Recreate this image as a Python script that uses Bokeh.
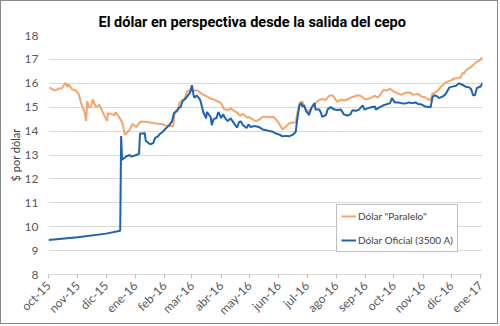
import pandas as pd
from math import pi
from bokeh.plotting import figure
from bokeh.models import FixedTicker, Legend, LegendItem, Range1d, Title
from bokeh.embed import file_html
from bokeh.resources import INLINE

paralelo_dates = [
    "2015-10-02", "2015-10-05", "2015-10-08", "2015-10-12", "2015-10-15", "2015-10-19", "2015-10-21",
    "2015-10-22", "2015-10-26", "2015-10-30", "2015-11-02", "2015-11-05", "2015-11-08", "2015-11-10",
    "2015-11-11", "2015-11-13", "2015-11-15", "2015-11-17", "2015-11-20", "2015-11-24", "2015-11-25",
    "2015-11-29", "2015-12-02", "2015-12-03", "2015-12-06", "2015-12-10", "2015-12-11", "2015-12-15",
    "2015-12-18", "2015-12-21", "2015-12-26", "2015-12-29", "2016-01-02", "2016-01-05", "2016-01-07",
    "2016-01-14", "2016-01-21", "2016-01-28", "2016-02-04", "2016-02-10", "2016-02-12", "2016-02-15",
    "2016-02-17", "2016-02-20", "2016-02-22", "2016-02-25", "2016-02-29", "2016-03-03", "2016-03-07",
    "2016-03-10", "2016-03-14", "2016-03-17", "2016-03-21", "2016-03-24", "2016-03-28", "2016-04-01",
    "2016-04-04", "2016-04-08", "2016-04-11", "2016-04-15", "2016-04-18", "2016-04-21", "2016-04-24",
    "2016-04-28", "2016-05-01", "2016-05-05", "2016-05-08", "2016-05-12", "2016-05-15", "2016-05-19",
    "2016-05-22", "2016-05-26", "2016-05-29", "2016-06-02", "2016-06-05", "2016-06-09", "2016-06-12",
    "2016-06-16", "2016-06-19", "2016-06-21", "2016-06-23", "2016-06-26", "2016-06-28", "2016-06-30",
    "2016-07-03", "2016-07-07", "2016-07-10", "2016-07-14", "2016-07-17", "2016-07-21", "2016-07-24",
    "2016-07-28", "2016-07-30", "2016-08-02", "2016-08-06", "2016-08-09", "2016-08-13", "2016-08-16",
    "2016-08-20", "2016-08-24", "2016-08-27", "2016-08-31", "2016-09-03", "2016-09-07", "2016-09-11",
    "2016-09-14", "2016-09-18", "2016-09-20", "2016-09-23", "2016-09-27", "2016-09-30", "2016-10-04",
    "2016-10-09", "2016-10-13", "2016-10-18", "2016-10-21", "2016-10-27", "2016-10-30", "2016-11-03",
    "2016-11-06", "2016-11-09", "2016-11-11", "2016-11-13", "2016-11-17", "2016-11-20", "2016-11-24",
    "2016-11-27", "2016-12-01", "2016-12-04", "2016-12-08", "2016-12-11", "2016-12-13", "2016-12-14",
    "2016-12-18", "2016-12-21", "2016-12-25", "2016-12-28", "2017-01-01", "2017-01-02", "2017-01-03",
]
paralelo_values = [
    15.83, 15.75, 15.70, 15.78, 15.78, 16.02, 15.85,
    15.97, 15.75, 15.70, 15.55, 15.10, 14.83, 14.42,
    15.25, 15.00, 15.00, 15.33, 15.00, 15.10, 15.00,
    14.67, 14.43, 14.75, 14.72, 14.67, 14.78, 14.58,
    14.37, 13.85, 14.05, 14.30, 14.17, 14.33, 14.40,
    14.38, 14.33, 14.30, 14.22, 14.20, 14.83, 14.90,
    15.20, 15.30, 15.33, 15.65, 15.72, 15.70, 15.70,
    15.60, 15.50, 15.45, 15.35, 15.33, 15.25, 15.17,
    14.92, 14.88, 14.95, 14.83, 14.78, 14.65, 14.72,
    14.58, 14.58, 14.47, 14.42, 14.50, 14.60, 14.60,
    14.58, 14.60, 14.50, 14.28, 14.07, 14.20, 14.32,
    14.36, 14.36, 14.80, 15.17, 15.25, 15.03, 14.90,
    14.83, 15.03, 15.17, 15.30, 15.35, 15.30, 15.47,
    15.50, 15.40, 15.22, 15.32, 15.28, 15.33, 15.40,
    15.45, 15.50, 15.47, 15.35, 15.33, 15.40, 15.48,
    15.40, 15.60, 15.72, 15.70, 15.77, 15.68, 15.60,
    15.52, 15.60, 15.62, 15.52, 15.55, 15.45, 15.42,
    15.33, 15.30, 15.57, 15.60, 15.70, 15.86, 16.00,
    16.07, 16.13, 16.20, 16.22, 16.25, 16.45, 16.40,
    16.60, 16.65, 16.80, 16.90, 17.00, 17.07, 16.98,
]

oficial_dates = [
    "2015-10-01", "2015-11-01", "2015-12-01", "2015-12-16", "2015-12-17", "2015-12-18", "2015-12-22",
    "2015-12-26", "2015-12-28", "2016-01-02", "2016-01-05", "2016-01-06", "2016-01-09", "2016-01-11",
    "2016-01-12", "2016-01-15", "2016-01-17", "2016-01-20", "2016-01-22", "2016-01-25", "2016-01-27",
    "2016-01-30", "2016-02-02", "2016-02-06", "2016-02-09", "2016-02-11", "2016-02-14", "2016-02-16",
    "2016-02-18", "2016-02-20", "2016-02-23", "2016-02-25", "2016-02-28", "2016-03-01", "2016-03-03",
    "2016-03-04", "2016-03-06", "2016-03-09", "2016-03-10", "2016-03-13", "2016-03-16", "2016-03-17",
    "2016-03-21", "2016-03-22", "2016-03-24", "2016-03-27", "2016-03-29", "2016-04-01", "2016-04-03",
    "2016-04-06", "2016-04-08", "2016-04-11", "2016-04-15", "2016-04-18", "2016-04-20", "2016-04-22",
    "2016-04-24", "2016-04-28", "2016-04-30", "2016-05-02", "2016-05-05", "2016-05-08", "2016-05-12",
    "2016-05-15", "2016-05-19", "2016-05-22", "2016-05-26", "2016-05-29", "2016-06-02", "2016-06-05",
    "2016-06-09", "2016-06-12", "2016-06-16", "2016-06-19", "2016-06-21", "2016-06-23", "2016-06-25",
    "2016-06-26", "2016-06-28", "2016-06-30", "2016-07-02", "2016-07-03", "2016-07-06", "2016-07-09",
    "2016-07-10", "2016-07-14", "2016-07-16", "2016-07-17", "2016-07-21", "2016-07-23", "2016-07-26",
    "2016-07-30", "2016-08-02", "2016-08-06", "2016-08-09", "2016-08-13", "2016-08-16", "2016-08-18",
    "2016-08-22", "2016-08-25", "2016-08-29", "2016-08-31", "2016-09-03", "2016-09-07", "2016-09-11",
    "2016-09-12", "2016-09-16", "2016-09-20", "2016-09-23", "2016-09-27", "2016-09-29", "2016-10-02",
    "2016-10-06", "2016-10-09", "2016-10-13", "2016-10-17", "2016-10-20", "2016-10-24", "2016-10-27",
    "2016-10-30", "2016-11-03", "2016-11-06", "2016-11-09", "2016-11-11", "2016-11-13", "2016-11-16",
    "2016-11-18", "2016-11-22", "2016-11-25", "2016-11-29", "2016-12-02", "2016-12-06", "2016-12-09",
    "2016-12-13", "2016-12-16", "2016-12-20", "2016-12-22", "2016-12-24", "2016-12-26", "2016-12-28",
    "2016-12-31", "2017-01-01", "2017-01-03",
]
oficial_values = [
    9.44, 9.56, 9.71, 9.83, 13.79, 12.80, 12.93,
    13.00, 12.93, 13.00, 13.05, 13.90, 13.90, 13.92,
    13.60, 13.50, 13.45, 13.50, 13.72, 13.78, 13.88,
    13.97, 14.10, 14.25, 14.42, 14.75, 14.83, 14.97,
    15.00, 15.25, 15.35, 15.45, 15.60, 15.92, 15.45,
    15.40, 15.50, 15.35, 15.28, 14.80, 14.53, 14.80,
    14.58, 14.25, 14.50, 14.55, 14.80, 14.55, 14.70,
    14.50, 14.42, 14.53, 14.30, 14.15, 14.38, 14.40,
    14.25, 14.13, 14.28, 14.17, 14.20, 14.20, 14.15,
    14.07, 14.04, 14.00, 13.97, 13.90, 13.85, 13.78,
    13.80, 13.78, 13.85, 13.97, 14.60, 15.08, 15.17,
    15.03, 15.08, 14.83, 14.75, 14.67, 15.00, 15.17,
    14.90, 14.90, 14.75, 14.60, 14.67, 14.92, 15.00,
    14.90, 14.88, 14.90, 14.70, 14.65, 14.70, 14.87,
    14.85, 14.90, 15.08, 14.90, 14.95, 15.00, 15.03,
    14.90, 15.00, 15.08, 15.12, 15.17, 15.38, 15.20,
    15.20, 15.17, 15.15, 15.20, 15.17, 15.20, 15.13,
    15.12, 15.03, 15.02, 15.00, 15.42, 15.50, 15.45,
    15.38, 15.45, 15.55, 15.83, 15.86, 15.90, 16.00,
    15.93, 15.86, 15.83, 15.75, 15.50, 15.50, 15.80,
    15.86, 15.86, 16.03,
]

tick_dates = [
    "2015-10-01", "2015-11-01", "2015-12-01", "2016-01-01", "2016-02-01", "2016-03-01",
    "2016-04-01", "2016-05-01", "2016-06-01", "2016-07-01", "2016-08-01", "2016-09-01",
    "2016-10-01", "2016-11-01", "2016-12-01", "2017-01-01",
]
tick_labels = [
    "oct-15", "nov-15", "dic-15", "ene-16", "feb-16", "mar-16", "abr-16", "may-16",
    "jun-16", "jul-16", "ago-16", "sep-16", "oct-16", "nov-16", "dic-16", "ene-17",
]
y_ticks = [8, 9, 10, 11, 12, 13, 14, 15, 16, 17, 18]

title_text = "El dólar en perspectiva desde la salida del cepo"
y_label = "$ por dólar"
name_paralelo = 'Dólar "Paralelo"'
name_oficial = "Dólar Oficial (3500 A)"

ORANGE = "#F4A56C"
BLUE = "#1F63B0"
TXT = "#595959"
FONT = "Lato"

p = figure(
    width=498, height=324,
    x_axis_type="datetime",
    x_range=Range1d(pd.Timestamp("2015-10-01"), pd.Timestamp("2017-01-03")),
    y_range=Range1d(8, 18),
    output_backend="svg", toolbar_location=None,
    min_border_left=47, min_border_right=17, min_border_top=34, min_border_bottom=48,
)
p.styles = {"border": "1px solid #8a8a8a"}
p.outline_line_color = None
p.background_fill_color = "white"
p.border_fill_color = "white"

p.add_layout(Title(text=title_text, align="left", offset=50,
                   text_font="Roboto", text_font_size="14.5px", text_font_style="bold",
                   text_color="black", standoff=10), "above")

ms_ticks = [pd.Timestamp(d).value // 10**6 for d in tick_dates]
p.xaxis.ticker = FixedTicker(ticks=ms_ticks)
p.xaxis.major_label_overrides = {int(t): lbl for t, lbl in zip(ms_ticks, tick_labels)}
p.xaxis.major_label_orientation = pi / 4
p.xaxis.axis_line_color = "#D9D9D9"
p.xaxis.major_tick_line_color = "#BFBFBF"
p.xaxis.major_tick_out = 4
p.xaxis.major_tick_in = 0
p.xaxis.minor_tick_line_color = None
p.xaxis.major_label_standoff = 5
p.xaxis.major_label_text_font = FONT
p.xaxis.major_label_text_font_size = "12px"
p.xaxis.major_label_text_color = TXT

p.yaxis.ticker = FixedTicker(ticks=y_ticks)
p.yaxis.axis_line_color = None
p.yaxis.major_tick_line_color = None
p.yaxis.minor_tick_line_color = None
p.yaxis.major_tick_out = 0
p.yaxis.major_tick_in = 0
p.yaxis.major_label_standoff = 10
p.yaxis.major_label_text_font = FONT
p.yaxis.major_label_text_font_size = "12px"
p.yaxis.major_label_text_color = TXT
p.yaxis.axis_label = y_label
p.yaxis.axis_label_text_font = FONT
p.yaxis.axis_label_text_font_size = "11px"
p.yaxis.axis_label_text_font_style = "normal"
p.yaxis.axis_label_text_color = "#404040"
p.yaxis.axis_label_standoff = 0

p.xgrid.grid_line_color = None
p.ygrid.grid_line_color = "#D9D9D9"
p.ygrid.grid_line_width = 1

r_par = p.line(pd.to_datetime(paralelo_dates), paralelo_values, line_color=ORANGE, line_width=2)
r_of = p.line(pd.to_datetime(oficial_dates), oficial_values, line_color=BLUE, line_width=2)

legend = Legend(
    items=[LegendItem(label=name_paralelo, renderers=[r_par]),
           LegendItem(label=name_oficial, renderers=[r_of])],
    location=(288, 22),
    border_line_color="#7F7F7F", border_line_width=1,
    background_fill_color="white", background_fill_alpha=1,
    label_text_font=FONT, label_text_font_size="10px", label_text_color="#404040",
    glyph_width=15, glyph_height=14, label_height=14, label_standoff=2,
    spacing=10, padding=4, margin=0,
)
p.add_layout(legend, "center")

open("out.html", "w").write(file_html(p, INLINE))
